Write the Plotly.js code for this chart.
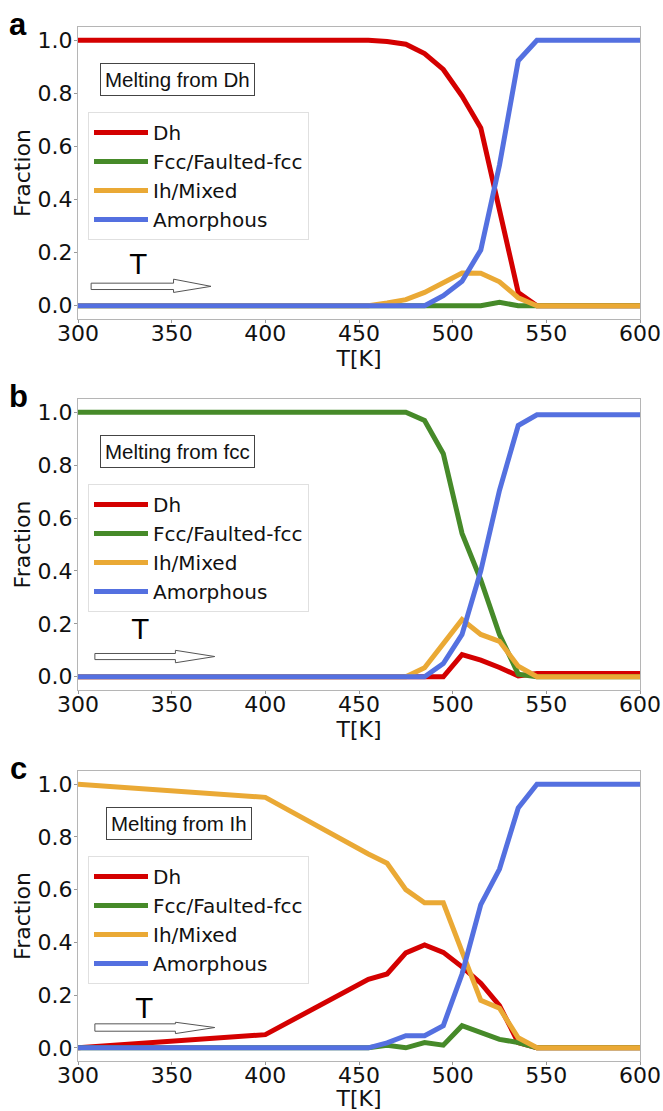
<!DOCTYPE html>
<html>
<head>
<meta charset="utf-8">
<script src="https://cdn.plot.ly/plotly-3.0.1.min.js"></script>
<style>html,body{margin:0;padding:0;background:#fff;}#chart{width:663px;height:1111px;}</style>
</head>
<body>
<div id="chart"></div>
<script>
// ---- data ----
const temps = [300, 400, 455, 465, 475, 485, 495, 505, 515, 525, 535, 545, 600];
const seriesNames = ["Dh", "Fcc/Faulted-fcc", "Ih/Mixed", "Amorphous"];
const panelLabels = ["a", "b", "c"];
const panelTitles = ["Melting from Dh", "Melting from fcc", "Melting from Ih"];
const xTicks = [300, 350, 400, 450, 500, 550, 600];
const yTicks = [0, 0.2, 0.4, 0.6, 0.8, 1.0];

const dhA  = [1, 1, 1, 0.995, 0.985, 0.95, 0.89, 0.79, 0.67, 0.36, 0.05, 0, 0];
const fccA = [0, 0, 0, 0, 0, 0, 0, 0, 0, 0.013, 0, 0, 0];
const ihA  = [0, 0, 0, 0.01, 0.023, 0.05, 0.085, 0.123, 0.122, 0.09, 0.03, 0, 0];
const amA  = [0, 0, 0, 0, 0, 0, 0.038, 0.092, 0.21, 0.53, 0.923, 1, 1];

const dhB  = [0, 0, 0, 0, 0, 0, 0, 0.084, 0.063, 0.035, 0.003, 0.012, 0.012];
const fccB = [1, 1, 1, 1, 1, 0.969, 0.843, 0.542, 0.366, 0.16, 0.01, 0, 0];
const ihB  = [0, 0, 0, 0, 0, 0.034, 0.128, 0.216, 0.16, 0.134, 0.04, 0, 0];
const amB  = [0, 0, 0, 0, 0, 0, 0.05, 0.16, 0.40, 0.705, 0.95, 0.99, 0.99];

const dhC  = [0, 0.05, 0.26, 0.28, 0.36, 0.39, 0.362, 0.307, 0.245, 0.16, 0.02, 0, 0];
const fccC = [0, 0, 0, 0.01, 0, 0.02, 0.01, 0.084, 0.058, 0.032, 0.02, 0, 0];
const ihC  = [1, 0.95, 0.735, 0.70, 0.60, 0.55, 0.55, 0.36, 0.18, 0.15, 0.038, 0, 0];
const amC  = [0, 0, 0, 0.019, 0.046, 0.046, 0.084, 0.28, 0.543, 0.678, 0.91, 1, 1];

// ---- styling ----
const colors = ["#d40000", "#468a29", "#eaa935", "#5470e0"];
const panels = [[dhA, fccA, ihA, amA], [dhB, fccB, ihB, amB], [dhC, fccC, ihC, amC]];

const W = 663, H = 1111;
const M = {l: 78, r: 23, t: 27, b: 50};
const plotW = W - M.l - M.r, plotH = H - M.t - M.b;
const px2x = px => (px - M.l) / plotW;
const px2y = py => (H - M.b - py) / plotH;
const panelTop = [27, 399, 771];
const panelBot = [319, 690, 1061];

const traces = [];
panels.forEach((p, i) => {
  const sfx = i === 0 ? "" : String(i + 1);
  p.forEach((vals, j) => {
    traces.push({
      x: temps, y: vals, type: "scatter", mode: "lines",
      name: seriesNames[j],
      line: {color: colors[j], width: 5},
      xaxis: "x" + sfx, yaxis: "y" + sfx,
      legend: "legend" + sfx,
      hoverinfo: "x+y+name"
    });
  });
});

const tickFont = {family: "DejaVu Sans", size: 22, color: "#111"};
function xaxisDef(i) {
  return {
    domain: [0, 1], range: [300, 600], anchor: "y" + (i === 0 ? "" : i + 1),
    tickvals: xTicks, ticks: "outside", ticklen: 3, tickcolor: "#999",
    ticklabelstandoff: -8,
    showline: true, mirror: true, linecolor: "#b5b5b5", linewidth: 1,
    showgrid: false, zeroline: false, tickfont: tickFont,
    title: {text: "T[K]", font: tickFont, standoff: 0}
  };
}
function yaxisDef(i) {
  return {
    domain: [px2y(panelBot[i]), px2y(panelTop[i])], range: [-0.05, 1.05],
    anchor: "x" + (i === 0 ? "" : i + 1),
    tickvals: yTicks, tickformat: ".1f", ticks: "outside", ticklen: 3, tickcolor: "#999",
    ticklabelstandoff: -3,
    showline: true, mirror: true, linecolor: "#b5b5b5", linewidth: 1,
    showgrid: false, zeroline: false, tickfont: tickFont,
    title: {text: "Fraction", font: tickFont, standoff: 0}
  };
}

const layout = {
  width: W, height: H, margin: M, showlegend: true,
  paper_bgcolor: "#fff", plot_bgcolor: "#fff",
  font: {family: "DejaVu Sans", color: "#111"},
  annotations: [], shapes: []
};
const arrowY = [[0.061, 0.085, 0.05, 0.10, 307, 351, 371], [0.065, 0.088, 0.053, 0.100, 309, 352, 373], [0.063, 0.091, 0.054, 0.097, 309, 352, 373]];
const tPos = [[332, 0.155], [333, 0.18], [335, 0.148]];
for (let i = 0; i < 3; i++) {
  const sfx = i === 0 ? "" : String(i + 1);
  layout["xaxis" + sfx] = xaxisDef(i);
  layout["yaxis" + sfx] = yaxisDef(i);
  layout["legend" + (i === 0 ? "" : i + 1)] = {
    x: px2x(88), y: px2y(112 + (panelTop[i] - 27)), xanchor: "left", yanchor: "top",
    bgcolor: "rgba(255,255,255,0.9)", bordercolor: "#e0e0e0", borderwidth: 1,
    font: {family: "DejaVu Sans", size: 20, color: "#111"},
    itemwidth: 54, tracegroupgap: 0
  };
  // panel letter
  layout.annotations.push({
    xref: "paper", yref: "paper", x: px2x(18), y: px2y(panelTop[i] - 3),
    text: "<b>" + panelLabels[i] + "</b>", showarrow: false,
    xanchor: "center", yanchor: "middle",
    font: {family: "Liberation Sans", size: 31, color: "#000"}
  });
  // boxed title
  layout.annotations.push({
    xref: "paper", yref: "paper", x: px2x(i === 2 ? 106 : 100), y: px2y(panelTop[i] + 36),
    text: panelTitles[i], showarrow: false, xanchor: "left", yanchor: "top",
    font: {family: "Liberation Sans", size: 20.5, color: "#111"},
    bordercolor: "#444", borderwidth: 1, borderpad: 4, bgcolor: "#fff"
  });
  // T label
  layout.annotations.push({
    xref: "x" + sfx, yref: "y" + sfx, x: tPos[i][0], y: tPos[i][1],
    text: "T", showarrow: false, xanchor: "center", yanchor: "middle",
    font: {family: "DejaVu Sans", size: 27, color: "#000"}
  });
  // hollow arrow
  const [yb, yt, hb, ht, x0, x1, tip] = arrowY[i];
  const yc = (yb + yt) / 2;
  layout.shapes.push({
    type: "path", xref: "x" + sfx, yref: "y" + sfx,
    path: `M${x0},${yb} L${x1},${yb} L${x1},${hb} L${tip},${yc} L${x1},${ht} L${x1},${yt} L${x0},${yt} Z`,
    fillcolor: "#fff", line: {color: "#555", width: 1}
  });
}

Plotly.newPlot("chart", traces, layout, {displayModeBar: false, staticPlot: true});
</script>
</body>
</html>
